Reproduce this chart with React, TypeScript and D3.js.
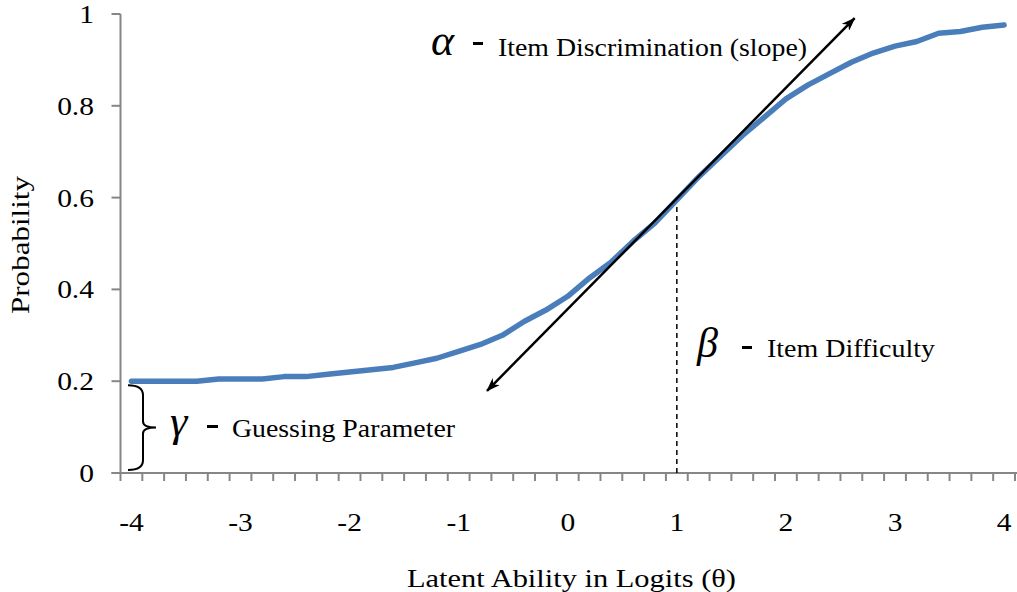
import React from "react";
import * as d3 from "d3";

const W = 1017;
const H = 592;

// Ability levels (theta), one category per 0.2 logit
const categories = [
  "-4", "-3.8", "-3.6", "-3.4", "-3.2", "-3", "-2.8", "-2.6", "-2.4", "-2.2",
  "-2", "-1.8", "-1.6", "-1.4", "-1.2", "-1", "-0.8", "-0.6", "-0.4", "-0.2",
  "0", "0.2", "0.4", "0.6", "0.8", "1", "1.2", "1.4", "1.6", "1.8",
  "2", "2.2", "2.4", "2.6", "2.8", "3", "3.2", "3.4", "3.6", "3.8", "4",
];

// Probability of a correct response at each ability level
const probability = [
  0.2, 0.2, 0.2, 0.2, 0.205, 0.205, 0.205, 0.21, 0.21, 0.215,
  0.22, 0.225, 0.23, 0.24, 0.25, 0.265, 0.28, 0.3, 0.33, 0.355,
  0.385, 0.425, 0.46, 0.505, 0.545, 0.595, 0.645, 0.69, 0.735, 0.775,
  0.815, 0.845, 0.87, 0.895, 0.915, 0.93, 0.94, 0.958, 0.962, 0.971, 0.976,
];

const xTickLabels = ["-4", "-3", "-2", "-1", "0", "1", "2", "3", "4"];
const yTicks = [0, 0.2, 0.4, 0.6, 0.8, 1];
const yTickLabels = ["0", "0.2", "0.4", "0.6", "0.8", "1"];

// Parameter annotations
const guessing = 0.2;
const difficulty = 1;
const difficultyP = 0.588;
const slopeFrom = { theta: -0.74, p: 0.179 };
const slopeTo = { theta: 2.63, p: 0.991 };

const FONT = "Liberation Serif";
const AXIS = "#868686";
const CURVE = "#4a7ebb";

const x = d3.scaleBand<string>().domain(categories).range([120.5, 1015]).padding(0);
const y = d3.scaleLinear().domain([0, 1]).range([473, 14]);
const cx = (c: string) => (x(c) as number) + x.bandwidth() / 2;
const theta = d3.scaleLinear().domain([-4, 4]).range([cx("-4"), cx("4")]);

const curvePath = d3
  .line<number>()
  .x((_, i) => cx(categories[i]))
  .y((d) => y(d))
  .curve(d3.curveLinear)(probability) as string;

function SText(props: {
  x: number;
  y: number;
  size: number;
  anchor?: "start" | "middle" | "end";
  sx?: number;
  italic?: boolean;
  len?: number;
  children: React.ReactNode;
}) {
  const { x: tx, y: ty, size, anchor = "start", sx = 1, italic, len, children } = props;
  return (
    <text
      transform={`translate(${tx},${ty}) scale(${sx},1)`}
      style={{ fontFamily: FONT, fontSize: size, fontStyle: italic ? "italic" : "normal" }}
      textAnchor={anchor}
      fill="#000"
      textLength={len}
      lengthAdjust={len ? "spacingAndGlyphs" : undefined}
    >
      {children}
    </text>
  );
}

export default function App() {
  const x0 = 120.5;
  const y0 = y(0);
  const bw = x.bandwidth();
  const boundaries = d3.range(categories.length + 1).map((i) => x0 + i * bw);

  // brace spanning the lower asymptote
  const bTop = y(guessing) + 4;
  const bBot = y(0) - 3;
  const bMid = (bTop + bBot) / 2;
  const bx0 = x0 + 7.5;
  const bx1 = bx0 + 15;
  const tip = bx1 + 13;
  const brace = [
    `M${bx0},${bTop}`,
    `Q${bx1},${bTop} ${bx1},${bTop + 10}`,
    `L${bx1},${bMid - 6}`,
    `Q${bx1},${bMid} ${tip},${bMid}`,
    `Q${bx1},${bMid} ${bx1},${bMid + 6}`,
    `L${bx1},${bBot - 10}`,
    `Q${bx1},${bBot} ${bx0},${bBot}`,
  ].join(" ");

  const dx = theta(difficulty);

  return (
    <div style={{ position: "absolute", left: 0, top: 0 }}>
      <svg width={W} height={H} viewBox={`0 0 ${W} ${H}`} style={{ display: "block", background: "#fff" }}>
        <defs>
          <marker
            id="head"
            viewBox="0 0 14 10"
            refX={13}
            refY={5}
            markerWidth={14}
            markerHeight={10}
            markerUnits="userSpaceOnUse"
            orient="auto-start-reverse"
          >
            <path d="M0,0 L14,5 L0,10 L4,5 Z" fill="#000" />
          </marker>
        </defs>

        {/* y axis */}
        <line x1={x0} x2={x0} y1={y(1)} y2={y0} stroke={AXIS} strokeWidth={2} />
        {yTicks.map((t, i) => (
          <g key={t}>
            <line x1={x0 - 9} x2={x0} y1={y(t)} y2={y(t)} stroke={AXIS} strokeWidth={2} />
            <SText x={94} y={y(t) + 9} size={25} anchor="end" sx={1.18}>
              {yTickLabels[i]}
            </SText>
          </g>
        ))}

        {/* x axis */}
        <line x1={x0 - 9} x2={W} y1={y0} y2={y0} stroke={AXIS} strokeWidth={2} />
        {boundaries.map((bx, i) => (
          <line key={i} x1={bx} x2={bx} y1={y0} y2={y0 + 8} stroke={AXIS} strokeWidth={2} />
        ))}
        {xTickLabels.map((l) => (
          <SText key={l} x={cx(l)} y={531} size={25} anchor="middle" sx={1.18}>
            {l}
          </SText>
        ))}

        {/* axis titles */}
        <SText x={407} y={587} size={25} len={329}>
          Latent Ability in Logits (θ)
        </SText>
        <text
          transform="translate(29,245) rotate(-90)"
          style={{ fontFamily: FONT, fontSize: 25 }}
          textAnchor="middle"
          textLength={138}
          lengthAdjust="spacingAndGlyphs"
        >
          Probability
        </text>

        {/* difficulty marker */}
        <line
          x1={dx}
          x2={dx}
          y1={y0}
          y2={y(difficultyP)}
          stroke="#000"
          strokeWidth={1.5}
          strokeDasharray="5,4"
        />

        {/* item characteristic curve */}
        <path d={curvePath} fill="none" stroke={CURVE} strokeWidth={5.5} strokeLinejoin="round" strokeLinecap="round" />

        {/* slope arrow */}
        <line
          x1={theta(slopeFrom.theta)}
          y1={y(slopeFrom.p)}
          x2={theta(slopeTo.theta)}
          y2={y(slopeTo.p)}
          stroke="#000"
          strokeWidth={2.5}
          markerStart="url(#head)"
          markerEnd="url(#head)"
        />

        {/* guessing brace */}
        <path d={brace} fill="none" stroke="#000" strokeWidth={2} />

        {/* parameter labels */}
        <SText x={431} y={55} size={44} italic>
          α
        </SText>
        <rect x={473} y={42} width={10} height={3} fill="#000" />
        <SText x={498} y={56} size={25} len={309}>
          Item Discrimination (slope)
        </SText>

        <SText x={697} y={357} size={42} italic>
          β
        </SText>
        <rect x={742} y={346} width={10} height={3} fill="#000" />
        <SText x={767} y={357} size={25} len={168}>
          Item Difficulty
        </SText>

        <SText x={170} y={436} size={44} italic>
          γ
        </SText>
        <rect x={207} y={425} width={11} height={3} fill="#000" />
        <SText x={232} y={437} size={25} len={223}>
          Guessing Parameter
        </SText>
      </svg>
    </div>
  );
}
